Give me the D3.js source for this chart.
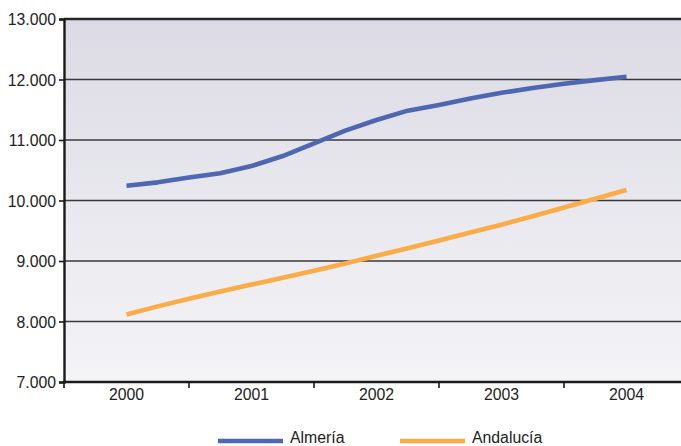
<!DOCTYPE html>
<html>
<head>
<meta charset="utf-8">
<script src="https://cdn.jsdelivr.net/npm/d3@7"></script>
<style>
  html, body { margin: 0; padding: 0; background: #fff; }
  svg { display: block; font-family: "Liberation Sans", Arial, Helvetica, sans-serif; }
</style>
</head>
<body>
<svg id="chart" width="681" height="446"></svg>
<script>
// ---- data ----
const years = ["2000", "2001", "2002", "2003", "2004"];
// quarterly samples from 2000 to 2004 (17 points)
const almeria = [10245, 10300, 10380, 10450, 10570, 10735, 10945, 11155, 11330,
                 11485, 11580, 11685, 11780, 11860, 11930, 11990, 12045];
const andalucia = [8115, 8250, 8375, 8495, 8610, 8725, 8840, 8960, 9085,
                   9210, 9340, 9470, 9600, 9740, 9885, 10030, 10175];
const yTicks = [7000, 8000, 9000, 10000, 11000, 12000, 13000];
const seriesNames = ["Almería", "Andalucía"];
const seriesColors = ["#4f67b1", "#fbab48"];

// ---- layout ----
const svg = d3.select("#chart");
const m = { left: 64, top: 19, right: 689, bottom: 382 };

const xBand = d3.scaleBand().domain(years).range([m.left, m.right]).padding(0);
const xTime = d3.scaleLinear()
  .domain([+years[0], +years[years.length - 1]])
  .range([xBand(years[0]) + xBand.bandwidth() / 2, xBand(years[years.length - 1]) + xBand.bandwidth() / 2]);
const y = d3.scaleLinear().domain([7000, 13000]).range([m.bottom, m.top]);

const fmt = d3.formatLocale({ decimal: ",", thousands: ".", grouping: [3], currency: ["", "€"] }).format(",d");

// background gradient
const defs = svg.append("defs");
const grad = defs.append("linearGradient").attr("id", "bg").attr("x1", 0).attr("x2", 0).attr("y1", 0).attr("y2", 1);
grad.append("stop").attr("offset", "0%").attr("stop-color", "#dcdbe5");
grad.append("stop").attr("offset", "100%").attr("stop-color", "#f4f4f7");

svg.append("rect")
  .attr("x", m.left).attr("y", m.top)
  .attr("width", m.right - m.left).attr("height", m.bottom - m.top)
  .attr("fill", "url(#bg)");

// gridlines
svg.append("g")
  .selectAll("line")
  .data(yTicks.filter(d => d !== 7000 && d !== 13000))
  .join("line")
  .attr("x1", m.left).attr("x2", m.right)
  .attr("y1", d => y(d)).attr("y2", d => y(d))
  .attr("stroke", "#3a3a3a").attr("stroke-width", 1.6);

// top border
svg.append("line")
  .attr("x1", m.left).attr("x2", m.right)
  .attr("y1", y(13000)).attr("y2", y(13000))
  .attr("stroke", "#262626").attr("stroke-width", 2.6);

// y axis
const yAxis = svg.append("g")
  .attr("transform", `translate(${m.left},0)`)
  .call(d3.axisLeft(y).tickValues(yTicks).tickFormat(fmt).tickSize(5).tickPadding(3));
yAxis.select(".domain").attr("stroke", "#1a1a1a").attr("stroke-width", 2.4);
yAxis.selectAll(".tick line").attr("stroke", "#1a1a1a").attr("stroke-width", 1.6);
yAxis.selectAll(".tick text")
  .attr("fill", "#222").attr("font-size", "15.8px")
  .attr("font-family", "'Liberation Sans', Arial, sans-serif")
  .attr("dy", "0.36em");

// x axis: ticks at band boundaries
const xAxisG = svg.append("g").attr("transform", `translate(0,${m.bottom})`);
xAxisG.append("line")
  .attr("x1", m.left - 1).attr("x2", m.right)
  .attr("y1", 0).attr("y2", 0)
  .attr("stroke", "#1a1a1a").attr("stroke-width", 2.6);
xAxisG.selectAll("line.tk")
  .data(years)
  .join("line").attr("class", "tk")
  .attr("x1", d => xBand(d)).attr("x2", d => xBand(d))
  .attr("y1", 0).attr("y2", 6)
  .attr("stroke", "#1a1a1a").attr("stroke-width", 1.6);
xAxisG.selectAll("text")
  .data(years)
  .join("text")
  .attr("x", d => xBand(d) + xBand.bandwidth() / 2)
  .attr("y", 18)
  .attr("text-anchor", "middle")
  .attr("fill", "#222").attr("font-size", "15.8px")
  .text(d => d);

// lines
const quarters = almeria.map((_, i) => +years[0] + i * 0.25);
const line = d3.line().x((d, i) => xTime(quarters[i])).y(d => y(d));
[almeria, andalucia].forEach((s, k) => {
  svg.append("path")
    .datum(s)
    .attr("d", line)
    .attr("fill", "none")
    .attr("stroke", seriesColors[k])
    .attr("stroke-width", 4.6)
    .attr("stroke-linejoin", "round");
});

// legend
const legendX = [218, 400];
const legend = svg.append("g");
seriesNames.forEach((name, k) => {
  legend.append("line")
    .attr("x1", legendX[k]).attr("x2", legendX[k] + 65)
    .attr("y1", 441).attr("y2", 441)
    .attr("stroke", seriesColors[k]).attr("stroke-width", 4.4);
  legend.append("text")
    .attr("x", legendX[k] + 72).attr("y", 443)
    .attr("fill", "#222").attr("font-size", "15.8px")
    .text(name);
});
</script>
</body>
</html>
